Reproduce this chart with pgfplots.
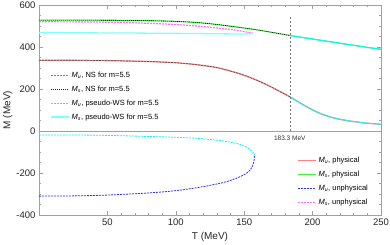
\documentclass[border=0pt]{standalone}
\usepackage{fontspec}
\setmainfont{Liberation Sans}
\usepackage{pgfplots}
\pgfplotsset{compat=1.18}
\definecolor{cred}{HTML}{FF8080}
\definecolor{cgreen}{HTML}{40F040}
\definecolor{cblue}{HTML}{3030F0}
\definecolor{cmag}{HTML}{FF70FF}
\definecolor{ccyan}{HTML}{10F5F5}
\definecolor{ccyanl}{HTML}{80FFFF}
\definecolor{frame}{HTML}{A0A0A0}
\newcommand{\Mu}{\textit{M}\textsubscript{\textit{u}}}
\newcommand{\Ms}{\textit{M}\textsubscript{\textit{s}}}
\begin{document}
\begin{tikzpicture}
\useasboundingbox (-39pt,-29pt) rectangle (351pt,215pt);
\begin{axis}[
  at={(0,0)}, anchor=south west,
  width=342pt, height=210pt, scale only axis,
  xmin=0, xmax=250, ymin=-400, ymax=600,
  xtick={50,100,150,200,250}, minor x tick num=4,
  ytick={-400,-200,0,200,400,600}, minor y tick num=3,
  tick pos=both, tick align=inside,
  major tick length=4pt, minor tick length=2pt,
  axis line style={frame}, tick style={frame, line width=0.4pt},
  ticklabel style={font=\fontsize{9.5}{11}\selectfont, text=black!85},
  /pgf/number format/assume math mode=true,
  xlabel={T (MeV)}, ylabel={M (MeV)},
  label style={font=\fontsize{10}{12}\selectfont, text=black!85},
  xlabel style={at={(axis description cs:0.5,0)}, anchor=center, yshift=-22pt},
  ylabel style={at={(axis description cs:-0.091,0.5)}, anchor=center},
  legend cell align=left,
  legend style={draw=none, fill=none, at={(rel axis cs:0.032,0.6925)}, anchor=north west,
    font=\fontsize{7.5}{9}\selectfont, row sep=3pt, inner sep=0pt},
  legend image code/.code={\draw[#1] (0pt,0pt) -- (18pt,0pt);},
]
\draw[frame, line width=0.6pt] (axis cs:0,0) -- (axis cs:250,0);
% M_u physical
\addplot[cred, line width=1.3pt, smooth, forget plot] coordinates {
(0,337) (20,337) (40,336) (60,334) (80,331) (100,325) (115,316) (130,302) (145,276) (155,253) (165,225) (175,192) (183.3,163) (195,118) (205,85) (215,63) (225,50) (237,39) (250,32)};
% M_s physical
\addplot[cgreen, line width=1.1pt, smooth, forget plot] coordinates {
(0,528) (30,528) (60,527) (90,524) (110,519) (125,511) (140,499) (160,481) (183.3,455) (208,430) (232,406) (250,389)};
% M_u unphysical
\addplot[cblue, line width=0.8pt, dash pattern=on 2pt off 1pt, smooth, forget plot] coordinates {
(0,-310) (25,-309) (50,-305) (80,-295) (100,-284) (118,-267) (135,-245) (145,-223) (151,-204) (154,-188) (156,-168) (157.2,-142) (157.5,-114)};
% M_s unphysical
\addplot[cmag, line width=1.2pt, dash pattern=on 2pt off 1pt, smooth, forget plot] coordinates {
(0,520) (40,519) (70,515) (100,507) (120,497) (135,487) (145,479) (151,472) (154.5,468) (156.5,465)};
% M_u pseudo-WS
\addplot[ccyan, line width=0.8pt, dash pattern=on 2pt off 1pt, smooth, forget plot] coordinates {
(0,-19) (25,-19) (50,-21) (80,-26) (100,-30) (118,-36) (135,-48) (145,-60) (151,-74) (154,-87) (156,-99) (157.2,-107) (157.5,-114)};
\addplot[ccyan, line width=0.9pt, smooth, forget plot] coordinates {
(183.3,163) (195,118) (205,85) (215,63) (225,50) (237,39) (250,32)};
% M_s pseudo-WS
\addplot[ccyanl, line width=1.3pt, smooth, forget plot] coordinates {
(0,468) (50,467) (100,465) (130,463) (148,462) (154,463) (156.5,465)};
\addplot[ccyan, line width=1.1pt, smooth, forget plot] coordinates {
(183.3,455) (208,430) (232,406) (250,389)};
% NS
\addplot[black!70, line width=0.6pt, dash pattern=on 2pt off 1pt, smooth, forget plot] coordinates {
(0,337) (20,337) (40,336) (60,334) (80,331) (100,325) (115,316) (130,302) (145,276) (155,253) (165,225) (175,192) (183.3,163)};
\addplot[black, line width=0.6pt, dash pattern=on 1pt off 1pt, smooth, forget plot] coordinates {
(0,528) (30,528) (60,527) (90,524) (110,519) (125,511) (140,499) (160,481) (183.3,455)};
% vertical line
\addplot[black!55, line width=0.5pt, dash pattern=on 2.5pt off 1.5pt, forget plot] coordinates {(183.3,0) (183.3,552)};
\node[font=\fontsize{6.5}{8}\selectfont, text=black!80] at (axis cs:183.3,-33) {183.3 MeV};
\addlegendimage{black!50, line width=0.9pt, dash pattern=on 2pt off 1pt}
\addlegendentry{\Mu, NS for m=5.5}
\addlegendimage{black!85, line width=0.8pt, dash pattern=on 1pt off 1pt}
\addlegendentry{\Ms, NS for m=5.5}
\addlegendimage{ccyan, line width=1.1pt, dash pattern=on 2pt off 1pt}
\addlegendentry{\Mu, pseudo-WS for m=5.5}
\addlegendimage{ccyanl, line width=1.6pt}
\addlegendentry{\Ms, pseudo-WS for m=5.5}
\end{axis}
\begin{axis}[
  at={(0,0)}, anchor=south west,
  width=342pt, height=210pt, scale only axis,
  xmin=0, xmax=250, ymin=-400, ymax=600, hide axis,
  legend cell align=left,
  legend style={draw=none, fill=none, at={(rel axis cs:0.754,0.2855)}, anchor=north west,
    font=\fontsize{7.5}{9}\selectfont, row sep=3pt, inner sep=0pt},
  legend image code/.code={\draw[#1] (0pt,0pt) -- (18pt,0pt);},
]
\addlegendimage{cred, line width=1.5pt}
\addlegendentry{\Mu, physical}
\addlegendimage{cgreen, line width=1.4pt}
\addlegendentry{\Ms, physical}
\addlegendimage{cblue, line width=1.1pt, dash pattern=on 2pt off 1pt}
\addlegendentry{\Mu, unphysical}
\addlegendimage{cmag, line width=1.3pt, dash pattern=on 2pt off 1pt}
\addlegendentry{\Ms, unphysical}
\end{axis}
\end{tikzpicture}
\end{document}
